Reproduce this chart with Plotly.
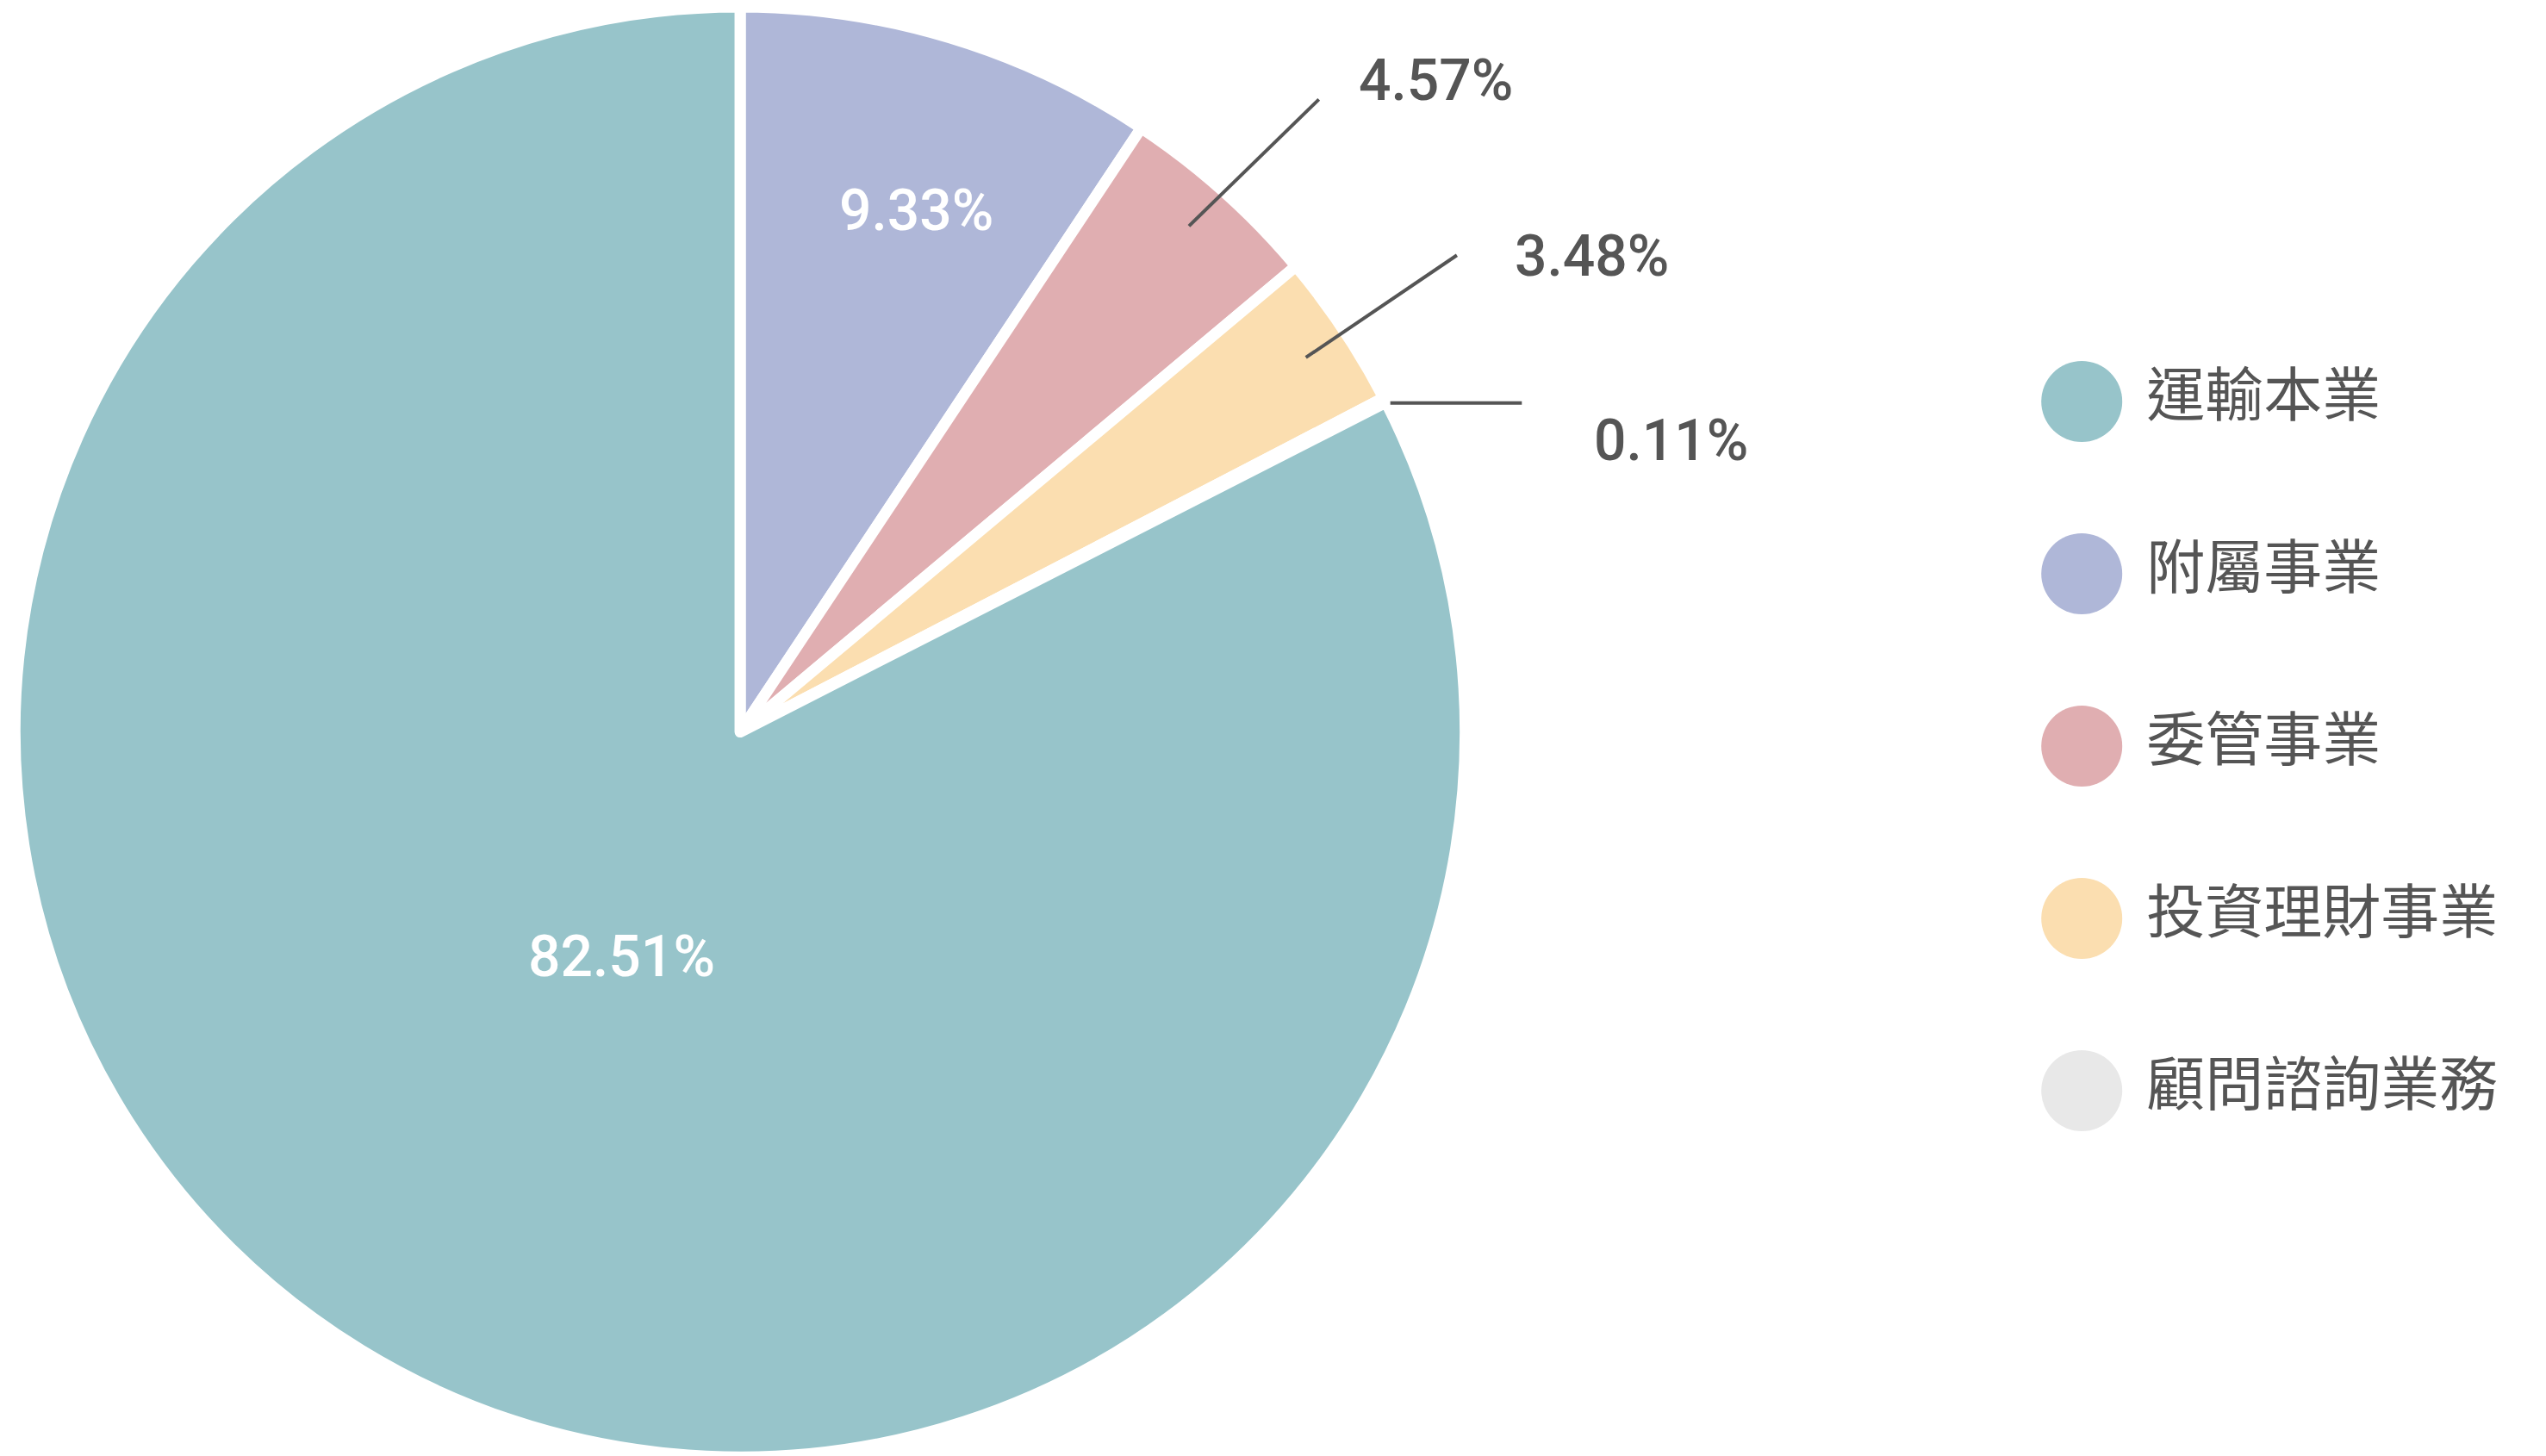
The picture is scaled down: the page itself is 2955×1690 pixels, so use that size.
import plotly.graph_objects as go

categories = ["運輸本業", "附屬事業", "委管事業", "投資理財事業", "顧問諮詢業務"]
values = [82.51, 9.33, 4.57, 3.48, 0.11]
colors = ["#97c4ca", "#afb7d8", "#e0aeb1", "#fbdeb0", "#e8e8e8"]

# slice order clockwise from 12 o'clock
order = [1, 2, 3, 4, 0]

W, H = 2955, 1690
fig = go.Figure()
fig.add_trace(go.Pie(
    labels=[categories[i] for i in order],
    values=[values[i] for i in order],
    marker=dict(colors=[colors[i] for i in order], line=dict(color="white", width=13)),
    sort=False, direction="clockwise", rotation=0,
    textinfo="none",
    domain=dict(x=[0.003, 0.573], y=[0.004, 1.0]),
    showlegend=False, hoverinfo="label+percent",
))

ys = list(range(len(categories)))[::-1]
fig.add_trace(go.Scatter(
    x=[0] * len(categories), y=ys, mode="markers+text",
    marker=dict(size=94, color=colors),
    text=["\u00a0" + c for c in categories], textposition="middle right",
    textfont=dict(size=68, color="#555555", family="Noto Sans CJK TC"),
    xaxis="x2", yaxis="y2", showlegend=False, hoverinfo="skip",
))

def P(x, y):
    return x / 1568, 1 - y / 897

label_font = dict(size=66, family="Roboto", weight=500)
annotations = []
# inside labels (white)
for idx, t in [(1, (560, 104)), (0, (320, 585))]:
    tx, ty = P(*t)
    annotations.append(dict(xref="paper", yref="paper", x=tx, y=ty, text=f"{values[idx]:.2f}%",
                            showarrow=False, font=dict(color="white", **label_font)))

callouts = [(2, (728, 135), (808, 57), (880, 24)),
            (3, (800, 216), (893, 153), (976, 132)),
            (4, (852, 244), (933, 244), (1025, 246))]
shapes = []
for idx, a, b, t in callouts:
    x0, y0 = P(*a); x1, y1 = P(*b); tx, ty = P(*t)
    shapes.append(dict(type="line", xref="paper", yref="paper", x0=x0, y0=y0, x1=x1, y1=y1,
                       line=dict(color="#555555", width=4)))
    annotations.append(dict(xref="paper", yref="paper", x=tx, y=ty, text=f"{values[idx]:.2f}%",
                            showarrow=False, font=dict(color="#555555", **label_font)))

fig.update_layout(
    width=W, height=H, margin=dict(l=0, r=0, t=0, b=0),
    paper_bgcolor="white", plot_bgcolor="white",
    shapes=shapes, annotations=annotations,
    xaxis2=dict(domain=[0.79, 1.0], range=[-0.41, 3.04], visible=False, fixedrange=True),
    yaxis2=dict(domain=[0.0, 1.0], range=[-2.16, 6.29], visible=False, fixedrange=True),
)
fig.write_html("out.html")
